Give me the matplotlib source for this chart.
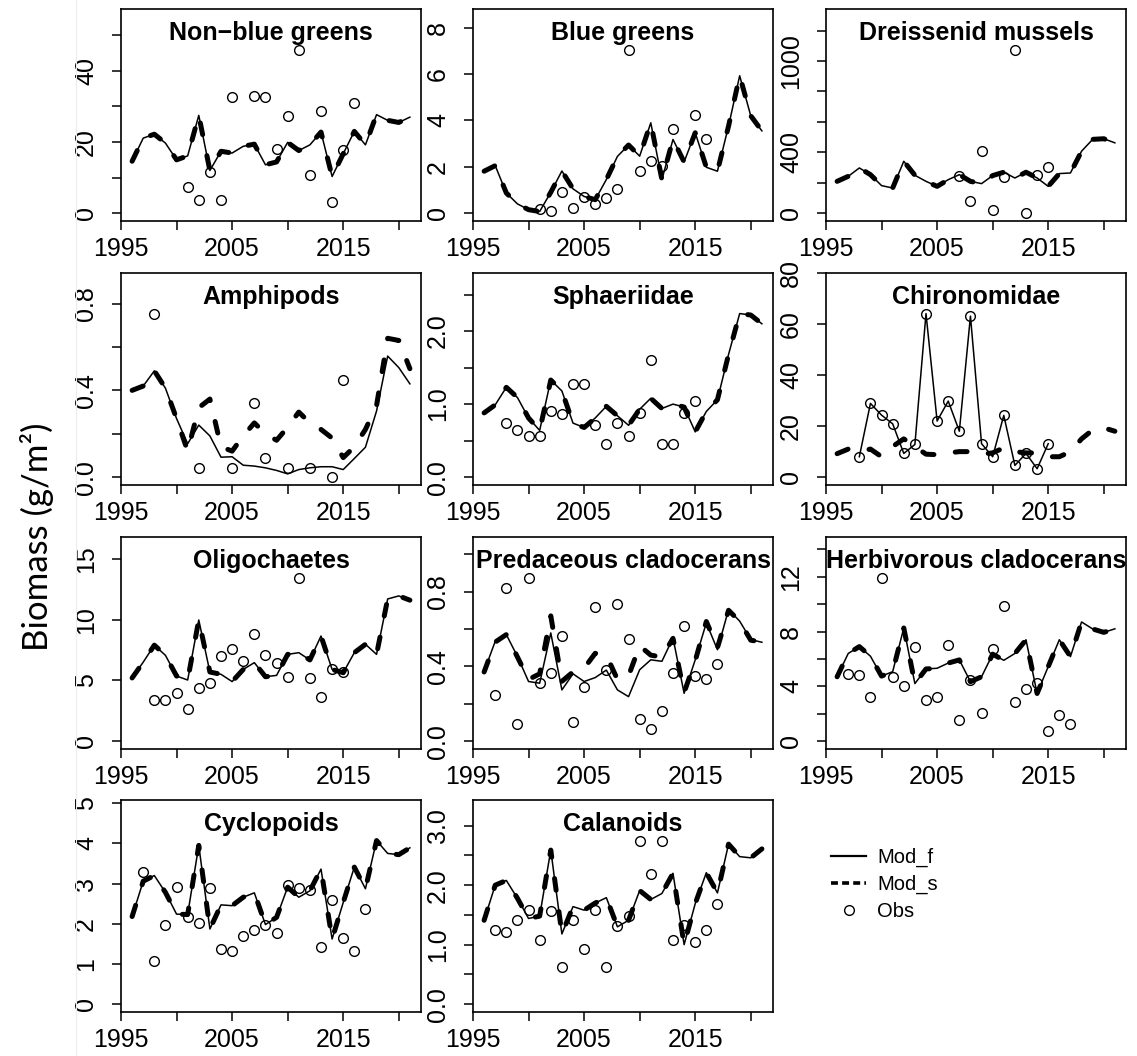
import matplotlib
matplotlib.use("Agg")
import matplotlib.pyplot as plt
from matplotlib.lines import Line2D

plt.rcParams["font.family"] = ["Liberation Sans", "DejaVu Sans"]
plt.rcParams["lines.scale_dashes"] = False

years = list(range(1996, 2022))

# Non-blue greens
nbg_mod_f = [14.6, 21.1, 22.2, 19.7, 15.0, 16.1, 27.5, 12.0, 17.4, 16.9, 18.8, 19.4, 13.6,
             14.4, 19.9, 17.6, 19.2, 22.8, 10.3, 16.7, 23.0, 19.2, 27.7, 26.1, 25.5, 27.0]
nbg_obs_years = [2001, 2002, 2003, 2004, 2005, 2007, 2008, 2009, 2010, 2011, 2012, 2013, 2014, 2015, 2016]
nbg_obs = [7.3, 3.6, 11.7, 3.8, 32.7, 32.9, 32.7, 18.1, 27.4, 46.0, 10.8, 28.8, 3.1, 17.7, 31.1]

# Blue greens
bg_mod_f = [1.81, 2.05, 0.87, 0.40, 0.15, 0.07, 0.90, 1.82, 1.05, 0.72, 0.58, 1.45, 2.45,
            2.94, 2.46, 3.90, 1.45, 3.18, 2.21, 3.47, 1.98, 1.81, 3.76, 5.93, 4.20, 3.55]
bg_obs_years = [2001, 2002, 2003, 2004, 2005, 2006, 2007, 2008, 2009, 2010, 2011, 2012, 2013, 2015, 2016]
bg_obs = [0.17, 0.10, 0.91, 0.22, 0.68, 0.38, 0.65, 1.06, 7.06, 1.81, 2.24, 2.03, 3.65, 4.23, 3.18]

# Dreissenid mussels
dm_mod_f = [209, 242, 297, 253, 181, 165, 341, 249, 209, 176, 220, 253, 209,
            194, 247, 269, 231, 269, 231, 176, 260, 264, 407, 485, 489, 462]
dm_obs_years = [2007, 2008, 2009, 2010, 2011, 2012, 2013, 2014, 2015]
dm_obs = [242, 81, 407, 18, 236, 1075, 0, 249, 302]

# Amphipods
amph_mod_f = [0.397, 0.42, 0.49, 0.41, 0.27, 0.154, 0.24, 0.19, 0.092, 0.094, 0.055, 0.051, 0.043,
              0.031, 0.015, 0.035, 0.043, 0.048, 0.048, 0.035, 0.086, 0.138, 0.305, 0.558, 0.505, 0.43]
amph_mod_s = [0.40, 0.42, 0.49, 0.41, 0.27, 0.12, 0.32, 0.36, 0.14, 0.12, 0.19, 0.25, 0.20,
              0.17, 0.23, 0.30, 0.25, 0.22, 0.18, 0.09, 0.14, 0.22, 0.33, 0.64, 0.63, 0.50]
amph_obs_years = [1998, 2002, 2005, 2007, 2008, 2010, 2012, 2014, 2015]
amph_obs = [0.754, 0.043, 0.043, 0.34, 0.089, 0.043, 0.043, 0.0, 0.45]

# Sphaeriidae
sph_mod_f = [0.88, 0.99, 1.23, 1.09, 0.81, 0.64, 1.33, 1.18, 0.74, 0.68, 0.81, 0.97, 0.84,
             0.71, 0.93, 1.08, 0.94, 1.00, 0.96, 0.62, 0.90, 1.06, 1.68, 2.24, 2.22, 2.10]
sph_obs_years = list(range(1998, 2016))
sph_obs = [0.74, 0.65, 0.56, 0.56, 0.90, 0.87, 1.27, 1.27, 0.71, 0.46, 0.74, 0.57, 0.88,
           1.61, 0.46, 0.46, 0.88, 1.04]

# Chironomidae
chir_mod_f_years = list(range(1998, 2016))
chir_mod_f = [8.0, 28.9, 24.3, 20.9, 9.3, 12.8, 64.1, 22.0, 29.8, 18.0, 63.1, 13.1, 8.0,
              24.2, 4.6, 9.3, 3.3, 13.1]
chir_mod_s = [9.2, 11.0, 10.0, 11.0, 8.0, 12.0, 15.0, 12.0, 9.0, 8.8, 9.5, 10.0, 10.0,
              9.0, 9.5, 11.5, 10.0, 9.5, 9.5, 8.0, 8.0, 10.0, 15.0, 18.5, 19.3, 18.0]
chir_obs_years = list(range(1998, 2016))
chir_obs = [8.0, 28.9, 24.3, 20.9, 9.3, 12.8, 64.1, 22.0, 29.8, 18.0, 63.1, 13.1, 8.0,
            24.2, 4.6, 9.3, 3.3, 13.1]

# Oligochaetes
oli_mod_f = [5.2, 6.5, 7.9, 7.06, 5.36, 5.03, 9.97, 5.69, 5.5, 4.9, 5.9, 6.46, 5.3,
             5.41, 7.14, 7.28, 6.68, 8.65, 5.9, 5.63, 7.28, 7.97, 7.14, 11.7, 11.95, 11.6]
oli_obs_years = list(range(1998, 2016))
oli_obs = [3.35, 3.35, 3.93, 2.66, 4.34, 4.75, 7.0, 7.6, 6.6, 8.8, 7.09, 6.46, 5.27,
           13.46, 5.22, 3.65, 5.9, 5.71]

# Predaceous cladocerans
pred_mod_f = [0.373, 0.534, 0.57, 0.453, 0.319, 0.31, 0.579, 0.274, 0.36, 0.319, 0.34, 0.38, 0.274,
              0.238, 0.382, 0.435, 0.427, 0.552, 0.256, 0.435, 0.633, 0.489, 0.704, 0.642, 0.543, 0.529]
pred_mod_s = [0.37, 0.53, 0.57, 0.45, 0.33, 0.36, 0.67, 0.32, 0.37, 0.39, 0.47, 0.46, 0.33,
              0.35, 0.51, 0.46, 0.45, 0.55, 0.26, 0.43, 0.64, 0.50, 0.70, 0.64, 0.54, 0.53]
pred_obs_years = list(range(1997, 2018))
pred_obs = [0.247, 0.817, 0.091, 0.875, 0.31, 0.367, 0.565, 0.10, 0.292, 0.719, 0.378, 0.731,
            0.548, 0.116, 0.063, 0.161, 0.364, 0.615, 0.346, 0.332, 0.414]

# Herbivorous cladocerans
herb_mod_f = [4.7, 6.4, 6.9, 6.2, 4.75, 5.07, 8.26, 4.2, 5.27, 5.32, 5.7, 5.93, 4.34,
              4.7, 6.35, 5.9, 6.4, 7.4, 3.48, 5.44, 7.4, 6.17, 8.7, 8.19, 7.94, 8.2]
herb_obs_years = list(range(1997, 2018))
herb_obs = [4.9, 4.83, 3.24, 11.94, 4.7, 4.04, 6.84, 2.99, 3.24, 6.99, 1.52, 4.46, 2.08,
            6.74, 9.85, 2.87, 3.8, 4.26, 0.71, 1.89, 1.27]

# Cyclopoids
cyc_mod_f = [2.18, 3.06, 3.2, 2.78, 2.24, 2.23, 3.95, 1.87, 2.47, 2.45, 2.66, 2.77, 1.98,
             2.16, 2.91, 2.66, 2.82, 3.36, 1.62, 2.53, 3.41, 2.87, 4.07, 3.75, 3.72, 3.89]
cyc_obs_years = list(range(1997, 2018))
cyc_obs = [3.28, 1.08, 1.98, 2.92, 2.18, 2.02, 2.89, 1.37, 1.31, 1.70, 1.84, 1.98, 1.77,
           2.97, 2.88, 2.85, 1.41, 2.60, 1.64, 1.31, 2.37]

# Calanoids
cal_mod_f = [1.41, 2.0, 2.08, 1.78, 1.44, 1.48, 2.59, 1.18, 1.64, 1.58, 1.7, 1.79, 1.3,
             1.41, 1.91, 1.76, 1.86, 2.2, 1.0, 1.69, 2.21, 1.87, 2.69, 2.48, 2.46, 2.61]
cal_obs_years = list(range(1997, 2018))
cal_obs = [1.25, 1.21, 1.42, 1.58, 1.08, 1.57, 0.62, 1.41, 0.92, 1.59, 0.63, 1.31, 1.49,
           2.75, 2.19, 2.75, 1.08, 1.33, 1.04, 1.25, 1.68]

x_ticks = [1995, 2000, 2005, 2010, 2015, 2020]
x_labels = ["1995", "", "2005", "", "2015", ""]

panels = [
    dict(title="Non\u2212blue greens", fy=years, f=nbg_mod_f, s=nbg_mod_f, oy=nbg_obs_years, o=nbg_obs,
         yt=[0, 10, 20, 30, 40, 50], yl=["0", "", "20", "", "40", ""]),
    dict(title="Blue greens", fy=years, f=bg_mod_f, s=bg_mod_f, oy=bg_obs_years, o=bg_obs,
         yt=[0, 2, 4, 6, 8], yl=["0", "2", "4", "6", "8"]),
    dict(title="Dreissenid mussels", fy=years, f=dm_mod_f, s=dm_mod_f, oy=dm_obs_years, o=dm_obs,
         yt=[0, 200, 400, 600, 800, 1000, 1200], yl=["0", "", "400", "", "", "1000", ""]),
    dict(title="Amphipods", fy=years, f=amph_mod_f, s=amph_mod_s, oy=amph_obs_years, o=amph_obs,
         yt=[0, 0.2, 0.4, 0.6, 0.8], yl=["0.0", "", "0.4", "", "0.8"]),
    dict(title="Sphaeriidae", fy=years, f=sph_mod_f, s=sph_mod_f, oy=sph_obs_years, o=sph_obs,
         yt=[0, 0.5, 1.0, 1.5, 2.0, 2.5], yl=["0.0", "", "1.0", "", "2.0", ""]),
    dict(title="Chironomidae", fy=chir_mod_f_years, f=chir_mod_f, s=chir_mod_s, oy=chir_obs_years, o=chir_obs,
         yt=[0, 20, 40, 60, 80], yl=["0", "20", "40", "60", "80"]),
    dict(title="Oligochaetes", fy=years, f=oli_mod_f, s=oli_mod_f, oy=oli_obs_years, o=oli_obs,
         yt=[0, 5, 10, 15], yl=["0", "5", "10", "15"]),
    dict(title="Predaceous cladocerans", fy=years, f=pred_mod_f, s=pred_mod_s, oy=pred_obs_years, o=pred_obs,
         yt=[0, 0.2, 0.4, 0.6, 0.8, 1.0], yl=["0.0", "", "0.4", "", "0.8", ""]),
    dict(title="Herbivorous cladocerans", fy=years, f=herb_mod_f, s=herb_mod_f, oy=herb_obs_years, o=herb_obs,
         yt=[0, 2, 4, 6, 8, 10, 12, 14], yl=["0", "", "4", "", "8", "", "12", ""]),
    dict(title="Cyclopoids", fy=years, f=cyc_mod_f, s=cyc_mod_f, oy=cyc_obs_years, o=cyc_obs,
         yt=[0, 1, 2, 3, 4, 5], yl=["0", "1", "2", "3", "4", "5"]),
    dict(title="Calanoids", fy=years, f=cal_mod_f, s=cal_mod_f, oy=cal_obs_years, o=cal_obs,
         yt=[0, 0.5, 1.0, 1.5, 2.0, 2.5, 3.0], yl=["0.0", "", "1.0", "", "2.0", "", "3.0"]),
]

W, H = 1137, 1056
fig = plt.figure(figsize=(W / 100, H / 100), dpi=100)
fig.patch.set_facecolor("white")

col_left = [121, 473, 826]
row_top = [9, 273, 537, 800]
pw, ph = 300, 212

lw_f = 1.1
lw_s = 3.6

for i, p in enumerate(panels):
    r, c = divmod(i, 3)
    ax = fig.add_axes([col_left[c] / W, (H - row_top[r] - ph) / H, pw / W, ph / H])
    ax.plot(years, p["s"], color="black", lw=lw_s, dashes=(8.5, 15.5),
            dash_capstyle="round", solid_capstyle="round")
    ax.plot(p["fy"], p["f"], color="black", lw=lw_f, solid_joinstyle="round")
    ax.plot(p["oy"], p["o"], linestyle="none", marker="o", ms=7, mfc="none",
            mec="black", mew=1.0)
    top = 1.2 * max(max(p["f"]), max(p["s"]), max(p["o"]))
    ax.set_ylim(-0.04 * top, 1.04 * top)
    ax.set_xlim(1995, 2022)
    ax.set_xticks(x_ticks)
    ax.set_xticklabels(x_labels)
    ax.set_yticks(p["yt"])
    ax.set_yticklabels(p["yl"])
    ax.tick_params(axis="both", direction="out", length=6.5, width=1.1, labelsize=18,
                   color="black", labelcolor="black")
    ax.tick_params(axis="x", pad=5)
    ax.tick_params(axis="y", pad=10, labelrotation=90)
    for lab in ax.get_yticklabels():
        lab.set_verticalalignment("center")
    for sp in ax.spines.values():
        sp.set_linewidth(1.2)
        sp.set_color("black")
    ax.text(0.5, 0.855, p["title"], transform=ax.transAxes, ha="center", va="baseline",
            fontsize=18, fontweight="bold")

leg_f = Line2D([], [], color="black", lw=1.6)
leg_s = Line2D([], [], color="black", lw=2.6, dashes=(5, 3))
leg_o = Line2D([], [], linestyle="none", marker="o", ms=7, mfc="none", mec="black", mew=1.0)
fig.legend([leg_f, leg_s, leg_o], ["Mod_f", "Mod_s", "Obs"],
           loc="upper left", bbox_to_anchor=(831 / W, 1 - 848 / H), frameon=False,
           fontsize=14.5, handlelength=1.75, handletextpad=0.55, labelspacing=0.38,
           borderpad=0, borderaxespad=0)

fig.text(37 / W, 1 - 537 / H, "Biomass (g/m\u00b2)", rotation=90, ha="center", va="center",
         fontsize=25, family=["Lato", "DejaVu Sans"])

fig.add_artist(Line2D([76 / W, 76 / W], [0, 1], transform=fig.transFigure,
                      color="#ececec", lw=0.8))

fig.savefig("out.png", dpi=100, facecolor="white")
